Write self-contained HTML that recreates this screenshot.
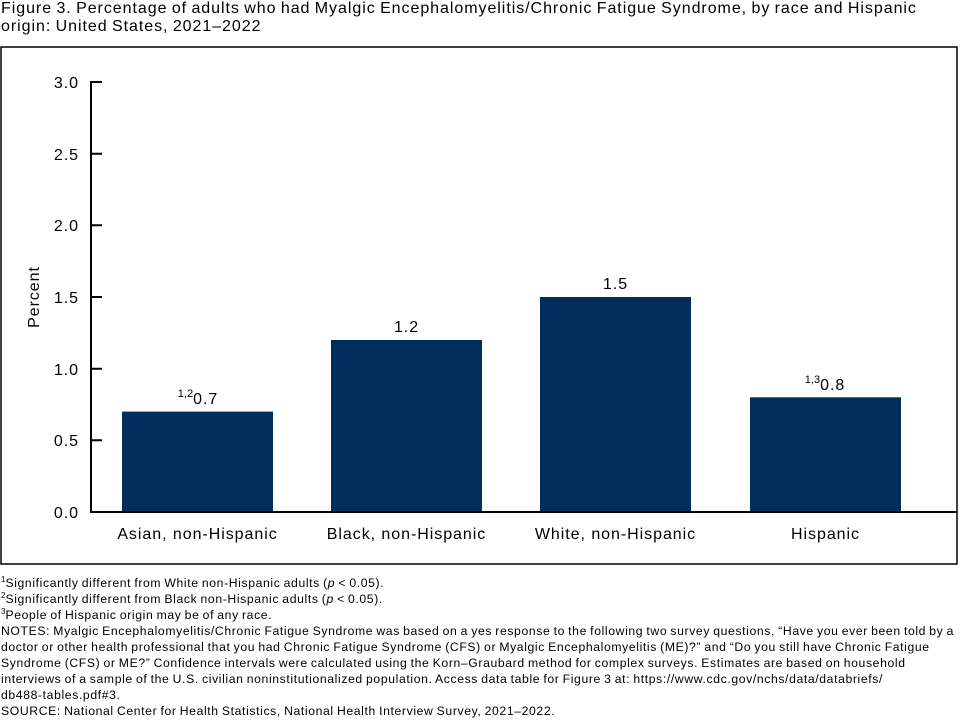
<!DOCTYPE html>
<html><head><style>
body{margin:0;width:960px;height:720px;background:#fff;font-family:"Liberation Sans",Arial,sans-serif;color:#000;position:relative;overflow:hidden}
.t{position:absolute;left:1px;top:0px;font-size:16px;line-height:18px;width:958px;letter-spacing:0.95px;word-spacing:-1px}
.n{position:absolute;left:1px;top:575px;font-size:12.2px;line-height:16px;width:958px;letter-spacing:0.62px;word-spacing:-0.8px}
sup{font-size:8px;vertical-align:top;line-height:8px;position:relative;top:1px;letter-spacing:0}
</style></head><body>
<div class="t">Figure 3. Percentage of adults who had Myalgic Encephalomyelitis/Chronic Fatigue Syndrome, by race and Hispanic origin: United States, 2021–2022</div>
<svg width="960" height="720" style="position:absolute;left:0;top:0" font-family="Liberation Sans,Arial,sans-serif" letter-spacing="0.95">
<rect x="1" y="47" width="956" height="517" fill="none" stroke="#000" stroke-width="1.5"/>
<g fill="#002d5c">
<rect x="122" y="411.6" width="151" height="100.4"/>
<rect x="331" y="340" width="151" height="172"/>
<rect x="540" y="297" width="151" height="215"/>
<rect x="750" y="397.3" width="151" height="114.7"/>
</g>
<g stroke="#000" stroke-width="2" fill="none">
<path d="M102 82H91V512H957"/>
<path d="M91 153.7H102M91 225.3H102M91 297H102M91 368.7H102M91 440.3H102"/>
</g>
<g font-size="16" text-anchor="end">
<text x="79" y="88">3.0</text><text x="79" y="160">2.5</text><text x="79" y="231">2.0</text>
<text x="79" y="303">1.5</text><text x="79" y="375">1.0</text><text x="79" y="446">0.5</text><text x="79" y="518">0.0</text>
</g>
<text transform="translate(39,297) rotate(-90)" font-size="16" text-anchor="middle">Percent</text>
<g font-size="16" text-anchor="middle">
<text x="197.5" y="539">Asian, non-Hispanic</text>
<text x="406.5" y="539">Black, non-Hispanic</text>
<text x="615.5" y="539">White, non-Hispanic</text>
<text x="825.5" y="539">Hispanic</text>
<text x="406.5" y="332">1.2</text>
<text x="615.5" y="289">1.5</text>
<text x="198" y="404"><tspan font-size="11" dy="-7" letter-spacing="0">1,2</tspan><tspan dy="7">0.7</tspan></text>
<text x="825" y="390"><tspan font-size="11" dy="-7" letter-spacing="0">1,3</tspan><tspan dy="7">0.8</tspan></text>
</g>
</svg>
<div class="n"><sup>1</sup>Significantly different from White non-Hispanic adults (<i>p</i> &lt; 0.05).<br><sup>2</sup>Significantly different from Black non-Hispanic adults (<i>p</i> &lt; 0.05).<br><sup>3</sup>People of Hispanic origin may be of any race.<br>NOTES: Myalgic Encephalomyelitis/Chronic Fatigue Syndrome was based on a yes response to the following two survey questions, “Have you ever been told by a doctor or other health professional that you had Chronic Fatigue Syndrome (CFS) or Myalgic Encephalomyelitis (ME)?” and “Do you still have Chronic Fatigue Syndrome (CFS) or ME?” Confidence intervals were calculated using the Korn–Graubard method for complex surveys. Estimates are based on household interviews of a sample of the U.S. civilian noninstitutionalized population. Access data table for Figure 3 at: https://www.cdc.gov/nchs/data/databriefs/<br>db488-tables.pdf#3.<br>SOURCE: National Center for Health Statistics, National Health Interview Survey, 2021–2022.</div>
</body></html>
